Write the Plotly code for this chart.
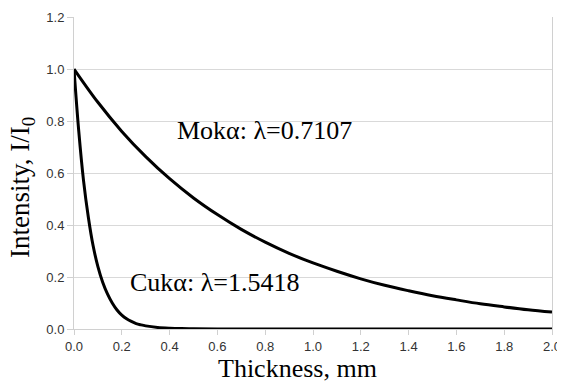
import plotly.graph_objects as go

thickness_mo = [0.0, 0.1, 0.2, 0.3, 0.4, 0.5, 0.6, 0.7, 0.8, 0.9, 1.0,
                1.1, 1.2, 1.3, 1.4, 1.5, 1.6, 1.7, 1.8, 1.9, 2.0]
intensity_mo = [1.00, 0.872, 0.760, 0.663, 0.578, 0.504, 0.440, 0.383, 0.334, 0.291, 0.254,
                0.222, 0.193, 0.168, 0.147, 0.128, 0.112, 0.097, 0.085, 0.074, 0.065]

thickness_cu = [0.0, 0.02, 0.04, 0.06, 0.08, 0.10, 0.12, 0.14, 0.16, 0.18, 0.20,
                0.22, 0.24, 0.26, 0.28, 0.30, 0.35, 0.40, 0.45, 0.50, 0.60,
                0.8, 1.0, 1.2, 1.4, 1.6, 1.8, 2.0]
intensity_cu = [1.00, 0.76, 0.57, 0.43, 0.32, 0.24, 0.18, 0.135, 0.10, 0.073, 0.053,
                0.039, 0.029, 0.021, 0.016, 0.012, 0.006, 0.003, 0.0015, 0.001, 0.0,
                0.0, 0.0, 0.0, 0.0, 0.0, 0.0, 0.0]

x_ticks = [0.0, 0.2, 0.4, 0.6, 0.8, 1.0, 1.2, 1.4, 1.6, 1.8, 2.0]
y_ticks = [0.0, 0.2, 0.4, 0.6, 0.8, 1.0, 1.2]

x_title = "Thickness, mm"
y_title = "Intensity, I/I<sub>0</sub>"

SERIF = "Liberation Serif"

fig = go.Figure()
fig.add_trace(go.Scatter(x=thickness_mo, y=intensity_mo, mode="lines",
                         line=dict(color="black", width=3, shape="spline", smoothing=1.0),
                         showlegend=False))
fig.add_trace(go.Scatter(x=thickness_cu, y=intensity_cu, mode="lines",
                         line=dict(color="black", width=3, shape="spline", smoothing=1.0),
                         showlegend=False))

fig.add_annotation(x=0.795, y=0.765, xref="x", yref="y", text="Mokα: λ=0.7107",
                   showarrow=False, font=dict(family=SERIF, size=26, color="black"))
fig.add_annotation(x=0.586, y=0.177, xref="x", yref="y", text="Cukα: λ=1.5418",
                   showarrow=False, font=dict(family=SERIF, size=26, color="black"))

# axis titles as annotations (they sit slightly off-centre in the reference)
fig.add_annotation(x=0.4676, y=-0.125, xref="paper", yref="paper", text=x_title,
                   showarrow=False, xanchor="center", yanchor="middle",
                   font=dict(family=SERIF, size=26, color="black"))
fig.add_annotation(x=-0.1088, y=0.455, xref="paper", yref="paper", text=y_title,
                   showarrow=False, xanchor="center", yanchor="middle", textangle=-90,
                   font=dict(family=SERIF, size=27, color="black"))

# page body has an 8px margin, so the figure is sized/offset to compensate
fig.update_layout(
    width=557, height=373,
    margin=dict(l=66, r=13, t=9, b=52),
    paper_bgcolor="white", plot_bgcolor="white",
    font=dict(family="Liberation Sans", size=13, color="#333333"),
    xaxis=dict(range=[0, 2.0], tickvals=x_ticks, ticktext=[f"{v:.1f}" for v in x_ticks],
               showgrid=False, zeroline=False, showline=True, linecolor="#d0d0d0",
               ticks="outside", ticklen=5, tickcolor="#d0d0d0", automargin=False),
    yaxis=dict(range=[0, 1.2], tickvals=y_ticks, ticktext=[f"{v:.1f}" for v in y_ticks],
               showgrid=True, gridcolor="#d9d9d9", zeroline=False,
               showline=True, mirror=True, linecolor="#d0d0d0",
               ticks="outside", ticklen=6, tickcolor="#d0d0d0", automargin=False),
)

fig.write_html("out.html")
